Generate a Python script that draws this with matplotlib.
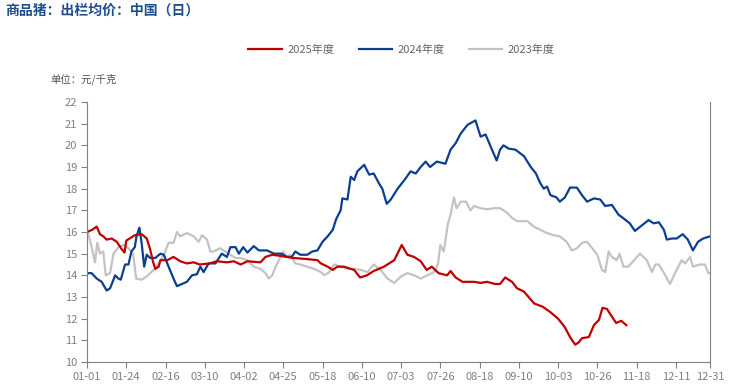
import matplotlib
matplotlib.use("Agg")
import matplotlib.pyplot as plt

plt.rcParams['font.family'] = ['Noto Sans CJK SC', 'DejaVu Sans']

# 横轴刻度 (日序号, 闰年2024)
tick_days = [0, 23, 46, 69, 92, 115, 138, 161, 184, 207, 230, 253, 276, 299, 322, 345, 365]
tick_labels = ["01-01", "01-24", "02-16", "03-10", "04-02", "04-25", "05-18", "06-10",
               "07-03", "07-26", "08-18", "09-10", "10-03", "10-26", "11-18", "12-11", "12-31"]

# 2025年度
d25 = [0, 3, 5.7, 7.6, 9.5, 11.5, 14.5, 17.4, 20.4, 22, 23, 25, 28, 32, 35, 37, 38.6, 40, 42, 43,
       47, 50.7, 54.6, 58.5, 62.5, 66, 72, 76, 82, 86, 90, 94, 101.6, 104.6, 108.5, 113, 117, 121,
       129, 135, 137, 141, 144, 146.7, 150.6, 156.5, 160, 164, 168, 174, 180, 184.4, 187.7, 191.6,
       195.5, 199, 202, 206, 211, 213, 216, 220, 226.7, 230.6, 234.5, 239, 242, 245, 249, 252,
       256, 262, 267, 271.5, 276, 280, 283, 286, 288, 290, 294, 297, 300, 302, 304.6, 307.5, 310,
       313, 316]
v25 = [16.0, 16.1, 16.25, 15.9, 15.8, 15.65, 15.7, 15.55, 15.2, 15.05, 15.6, 15.7, 15.85, 15.9,
       15.7, 15.2, 14.65, 14.3, 14.4, 14.7, 14.7, 14.85, 14.65, 14.55, 14.6, 14.5, 14.55, 14.65,
       14.6, 14.65, 14.5, 14.65, 14.6, 14.85, 14.95, 14.9, 14.85, 14.8, 14.75, 14.7, 14.55, 14.4,
       14.25, 14.4, 14.4, 14.25, 13.9, 14.0, 14.2, 14.4, 14.7, 15.4, 14.95, 14.85, 14.65, 14.25,
       14.4, 14.1, 14.0, 14.2, 13.9, 13.7, 13.7, 13.65, 13.7, 13.6, 13.6, 13.9, 13.7, 13.4, 13.25,
       12.7, 12.55, 12.3, 12.0, 11.6, 11.15, 10.8, 10.9, 11.1, 11.15, 11.7, 11.95, 12.5, 12.45,
       12.1, 11.8, 11.9, 11.7]

# 2024年度
d24 = [0, 2.7, 5.7, 8.6, 11.5, 13.5, 16.5, 18.4, 19.8, 22.3, 24.3, 26, 28, 29, 30.7, 32, 33.5,
       35, 37, 40, 43, 45, 47.8, 50.7, 52.7, 55.6, 58.5, 61.5, 64.4, 66.4, 68.3, 71.3, 75.2, 79,
       82, 84, 87, 89, 91.5, 94, 97.7, 100.7, 105.6, 109.5, 114, 117, 120, 122, 125, 129, 132, 135,
       138, 141, 144, 146, 148.6, 149.6, 152.6, 154.5, 156.5, 158.4, 162.4, 165.3, 168, 171, 173,
       175.6, 178, 182, 186, 189.6, 192.6, 195.5, 198.4, 201, 205, 210, 213, 216, 219, 223, 227.6,
       230.6, 233.5, 237, 240, 242, 244, 247, 251, 256, 260, 263, 265.6, 267.6, 269.5, 271.5, 275,
       277, 280, 283, 287, 290, 293, 297, 300.7, 303.6, 307.5, 311.4, 314, 318, 321, 325, 329, 332,
       335, 338, 339.7, 342.6, 345.5, 349, 352, 355, 358, 361, 365]
v24 = [14.1, 14.1, 13.85, 13.7, 13.3, 13.4, 14.0, 13.85, 13.8, 14.5, 14.5, 15.1, 15.3, 15.8, 16.2,
       15.5, 14.4, 14.95, 14.8, 14.8, 15.0, 14.95, 14.4, 13.85, 13.5, 13.6, 13.7, 14.0, 14.05, 14.4,
       14.15, 14.55, 14.55, 15.0, 14.85, 15.3, 15.3, 15.0, 15.3, 15.05, 15.35, 15.15, 15.15, 15.0,
       15.0, 14.85, 14.85, 15.1, 14.95, 14.95, 15.1, 15.15, 15.55, 15.8, 16.1, 16.6, 17.0, 17.55,
       17.5, 18.55, 18.4, 18.8, 19.1, 18.65, 18.7, 18.25, 18.0, 17.3, 17.5, 18.0, 18.4, 18.8, 18.7,
       19.0, 19.25, 19.0, 19.25, 19.15, 19.8, 20.1, 20.55, 20.95, 21.15, 20.4, 20.5, 19.85, 19.3,
       19.8, 20.0, 19.85, 19.8, 19.5, 19.0, 18.7, 18.25, 18.0, 18.1, 17.7, 17.6, 17.4, 17.6, 18.05,
       18.05, 17.7, 17.4, 17.55, 17.5, 17.2, 17.25, 16.8, 16.65, 16.4, 16.05, 16.3, 16.55, 16.4,
       16.45, 16.1, 15.65, 15.7, 15.7, 15.9, 15.65, 15.15, 15.55, 15.7, 15.8]

# 2023年度
d23 = [0, 2.7, 4.7, 6, 7.6, 9.5, 11, 13.5, 15.5, 18.4, 21.3, 24.3, 27, 28.8, 32, 35, 39, 42, 45,
       47.8, 50.7, 52.7, 54.6, 58.5, 62.5, 65.4, 67.4, 70.3, 72.3, 74, 78, 81, 84, 87, 90, 93.8,
       97.7, 101.6, 104.6, 106.5, 108.5, 110.5, 113.4, 115, 117, 119, 122, 125, 129, 133, 137, 139,
       142, 144.7, 148.6, 152.6, 156.5, 160.4, 164.3, 168, 172, 176, 180, 184, 187.7, 191.6, 195.5,
       199.4, 203.3, 205.6, 207, 209, 211.5, 213, 215, 216.5, 219, 222, 224.7, 226.7, 230.6, 234.5,
       238.4, 242, 246, 249, 252, 258, 261.7, 265.6, 269.5, 273.4, 277, 281, 284, 287, 290, 293,
       296, 299, 301.7, 303.6, 305.6, 307.5, 310.4, 312, 314.3, 317, 320, 324, 328, 331, 333, 335,
       337.7, 341.6, 344.5, 348.4, 350.4, 353.3, 355, 359, 362, 364, 365]
v23 = [16.15, 15.3, 14.6, 15.5, 15.0, 15.1, 14.0, 14.1, 15.0, 15.3, 15.4, 15.25, 15.0, 13.85, 13.8,
       13.95, 14.25, 14.55, 14.95, 15.5, 15.5, 16.0, 15.8, 15.95, 15.8, 15.55, 15.85, 15.65, 15.1,
       15.1, 15.25, 15.1, 14.95, 14.8, 14.8, 14.7, 14.4, 14.3, 14.1, 13.85, 14.0, 14.4, 14.85, 15.1,
       14.85, 14.95, 14.55, 14.5, 14.4, 14.3, 14.15, 14.0, 14.15, 14.5, 14.4, 14.3, 14.3, 14.25,
       14.15, 14.5, 14.25, 13.85, 13.65, 13.95, 14.1, 14.0, 13.85, 14.0, 14.15, 14.5, 15.4, 15.1,
       16.4, 16.8, 17.6, 17.1, 17.4, 17.4, 17.0, 17.2, 17.1, 17.05, 17.1, 17.1, 16.9, 16.65, 16.5,
       16.5, 16.25, 16.1, 15.95, 15.85, 15.8, 15.55, 15.15, 15.25, 15.5, 15.55, 15.25, 14.95, 14.25,
       14.15, 15.1, 14.85, 14.7, 15.0, 14.4, 14.4, 14.65, 15.0, 14.7, 14.15, 14.5, 14.5, 14.15, 13.6,
       14.1, 14.7, 14.55, 14.85, 14.4, 14.5, 14.5, 14.1, 14.1]

fig = plt.figure(figsize=(7.37, 3.85), dpi=100)
ax = fig.add_axes([87 / 737, 1 - 362 / 385, (710 - 87) / 737, (362 - 102) / 385])

l23, = ax.plot(d23, v23, color='#C3C3C3', lw=1.6, label='2023年度')
l24, = ax.plot(d24, v24, color='#0B3F8F', lw=1.6, label='2024年度')
l25, = ax.plot(d25, v25, color='#C00000', lw=1.6, label='2025年度')

ax.set_xlim(0, 365)
ax.set_ylim(10, 22)
ax.set_yticks(range(10, 23))
ax.set_xticks(tick_days)
ax.set_xticklabels(tick_labels)
ax.tick_params(colors='#808080', labelsize=8, length=4, width=0.8)
ax.tick_params(axis='x', labelcolor='#808080')
ax.tick_params(axis='y', pad=3)

for s in ['left', 'bottom', 'right']:
    ax.spines[s].set_color('#808080')
    ax.spines[s].set_linewidth(0.8)
ax.spines['top'].set_visible(False)

fig.legend(handles=[l25, l24, l23], loc='center', bbox_to_anchor=(0.545, 1 - 50 / 385),
           ncol=3, frameon=False, fontsize=8, handlelength=3, handletextpad=0.5,
           columnspacing=2.2, labelcolor='#666666')

fig.text(5 / 737, 1 - 11 / 385, "商品猪：出栏均价：中国（日）", fontsize=10, fontweight='bold',
         color='#1F4E8C', va='center', ha='left')
fig.text(50 / 737, 1 - 79 / 385, "单位：元/千克", fontsize=7.5, color='#555555',
         va='center', ha='left')

fig.savefig("out.png", dpi=100)
